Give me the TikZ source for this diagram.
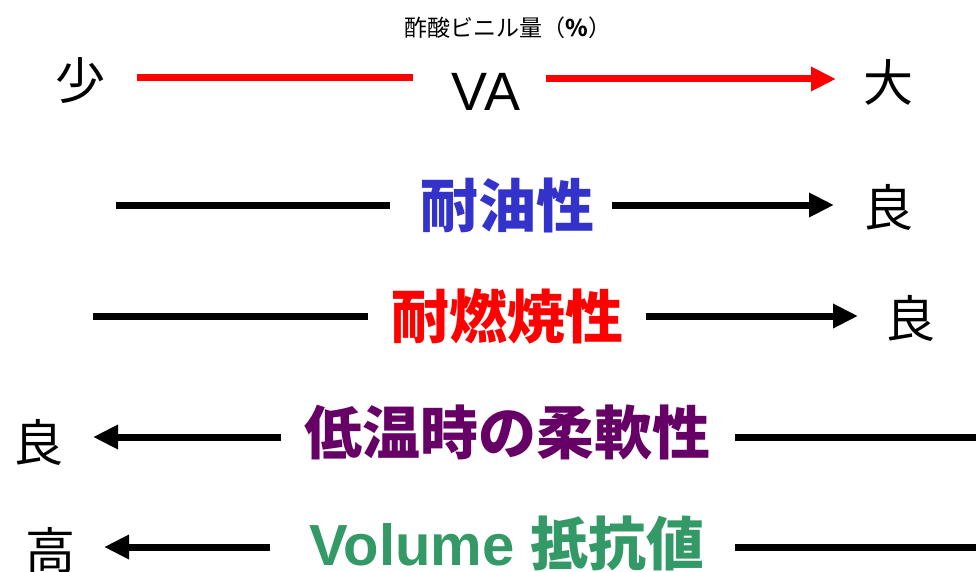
\documentclass[tikz,border=0pt]{standalone}
\usepackage{fontspec}
\setmainfont{Liberation Sans}
\newfontfamily\cjk{Noto Sans CJK JP}
\newfontfamily\cjkb{Noto Sans CJK JP Bold}
\usetikzlibrary{arrows.meta}
\definecolor{vblue}{HTML}{3333CC}
\definecolor{vred}{HTML}{FF0000}
\definecolor{vpurple}{HTML}{660066}
\definecolor{vgreen}{HTML}{339966}
\tikzset{
  lbl/.style={inner sep=0pt,font=\fontsize{50}{50}\selectfont\cjk},
  ttl/.style={inner sep=0pt,font=\fontsize{58}{58}\selectfont\bfseries\cjkb},
  bar/.style={line width=7pt},
  arr/.style={line width=7pt,-{Triangle[length=25pt,width=23pt]}},
}
\begin{document}
\begin{tikzpicture}[x=1pt,y=-1pt]
\useasboundingbox (0,0) rectangle (976,572);
% title
\node[inner sep=0pt,font=\fontsize{23}{23}\selectfont\cjk] (title) at (508,28) {酢酸ビニル量（\textbf{\%}）};
% row 1
\node[lbl] (small) at (80,81) {少};
\node[lbl] (large) at (888,82) {大};
\node[inner sep=0pt,font=\fontsize{54}{54}\selectfont] (va) at (486,92) {VA};
\coordinate (r1a) at (137,78);
\coordinate (r1b) at (413,78);
\coordinate (r1c) at (546,79);
\coordinate (r1d) at (836,79);
\draw[bar,vred] (r1a) -- (r1b);
\draw[arr,vred] (r1c) -- (r1d);
% row 2
\node[ttl,text=vblue] (oil) at (507,205) {耐油性};
\node[lbl] (good1) at (888,207) {良};
\coordinate (r2a) at (116,205);
\coordinate (r2b) at (390,205);
\coordinate (r2c) at (612,205);
\coordinate (r2d) at (834,205);
\draw[bar] (r2a) -- (r2b);
\draw[arr] (r2c) -- (r2d);
% row 3
\node[ttl,text=vred] (fire) at (507,316) {耐燃焼性};
\node[lbl] (good2) at (910,318) {良};
\coordinate (r3a) at (93,316);
\coordinate (r3b) at (368,316);
\coordinate (r3c) at (646,316);
\coordinate (r3d) at (858,316);
\draw[bar] (r3a) -- (r3b);
\draw[arr] (r3c) -- (r3d);
% row 4
\node[ttl,text=vpurple] (cold) at (507,432) {低温時の柔軟性};
\node[lbl] (good3) at (38,442) {良};
\coordinate (r4a) at (281,437);
\coordinate (r4b) at (93,437);
\coordinate (r4c) at (735,437);
\coordinate (r4d) at (976,437);
\draw[arr] (r4a) -- (r4b);
\draw[bar] (r4c) -- (r4d);
% row 5
\node[inner sep=0pt,text=vgreen,font=\fontsize{58}{58}\selectfont\bfseries] (vol) at (507,543) {Volume {\cjkb 抵抗値}};
\node[lbl] (high) at (50,550) {高};
\coordinate (r5a) at (270,547);
\coordinate (r5b) at (104,547);
\coordinate (r5c) at (735,547);
\coordinate (r5d) at (976,547);
\draw[arr] (r5a) -- (r5b);
\draw[bar] (r5c) -- (r5d);
\end{tikzpicture}
\end{document}
